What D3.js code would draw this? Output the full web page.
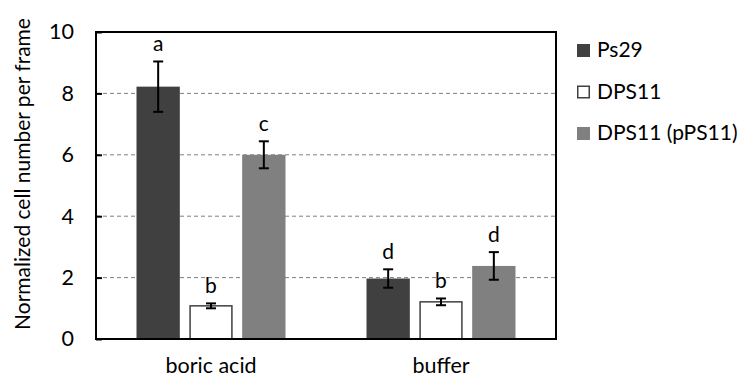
<!DOCTYPE html>
<html>
<head>
<meta charset="utf-8">
<script src="https://cdn.jsdelivr.net/npm/d3@7"></script>
<style>
  html, body { margin: 0; padding: 0; background: #fff; }
  svg { display: block; font-family: Lato, "Open Sans", sans-serif; }
</style>
</head>
<body>
<svg id="chart" width="739" height="380"></svg>
<script>
// Treatments on the x axis
const categories = ["boric acid", "buffer"];
// Strains (legend order)
const seriesNames = ["Ps29", "DPS11", "DPS11 (pPS11)"];
// Mean normalized cell number per frame, per strain, per treatment
const ps29Values  = [8.22, 1.97];
const dps11Values = [1.08, 1.21];
const ppsValues   = [6.00, 2.38];
// Error bar half-lengths
const ps29Err  = [0.82, 0.30];
const dps11Err = [0.08, 0.11];
const ppsErr   = [0.44, 0.45];
// Significance letters
const ps29Letters  = ["a", "d"];
const dps11Letters = ["b", "b"];
const ppsLetters   = ["c", "d"];
// Y axis ticks
const yTicks = [0, 2, 4, 6, 8, 10];

const series = [
  { name: seriesNames[0], values: ps29Values,  errs: ps29Err,  letters: ps29Letters,  fill: "#404040", stroke: "#404040" },
  { name: seriesNames[1], values: dps11Values, errs: dps11Err, letters: dps11Letters, fill: "#ffffff", stroke: "#404040" },
  { name: seriesNames[2], values: ppsValues,   errs: ppsErr,   letters: ppsLetters,   fill: "#808080", stroke: "#808080" }
];

const svg = d3.select("#chart");
const plot = { left: 96, right: 556, top: 32, bottom: 339 };
const labelSize = 21;
const axisSize = 21.5;

const x0 = d3.scaleBand().domain(categories).range([plot.left, plot.right]);
const groupWidth = 149;
const x1 = d3.scaleBand()
  .domain(seriesNames)
  .range([(x0.bandwidth() - groupWidth) / 2, (x0.bandwidth() + groupWidth) / 2])
  .paddingInner(0.18);
const y = d3.scaleLinear().domain([0, 10]).range([plot.bottom, plot.top]);

// Dashed gridlines
svg.append("g")
  .selectAll("line")
  .data(yTicks.filter(t => t > 0 && t < 10))
  .join("line")
  .attr("x1", plot.left).attr("x2", plot.right)
  .attr("y1", d => y(d)).attr("y2", d => y(d))
  .attr("stroke", "#7f7f7f")
  .attr("stroke-width", 1)
  .attr("stroke-dasharray", "4,3");

// Bars
const groups = svg.append("g")
  .selectAll("g")
  .data(categories)
  .join("g")
  .attr("transform", d => `translate(${x0(d)},0)`);

const cells = groups.selectAll("g.cell")
  .data((c, ci) => series.map(s => ({ s, v: s.values[ci], e: s.errs[ci], l: s.letters[ci] })))
  .join("g")
  .attr("class", "cell");

cells.append("rect")
  .attr("x", d => x1(d.s.name) + (d.s.fill === "#ffffff" ? 0.75 : 0))
  .attr("width", d => x1.bandwidth() - (d.s.fill === "#ffffff" ? 1.5 : 0))
  .attr("y", d => y(d.v))
  .attr("height", d => y(0) - y(d.v))
  .attr("fill", d => d.s.fill)
  .attr("stroke", d => d.s.fill === "#ffffff" ? d.s.stroke : "none")
  .attr("stroke-width", 1.5);

// Error bars with significance letters above
const cap = 5;
cells.each(function (d) {
  const g = d3.select(this);
  const cx = x1(d.s.name) + x1.bandwidth() / 2;
  const yt = y(d.v + d.e), yb = y(d.v - d.e);
  g.append("line").attr("x1", cx).attr("x2", cx).attr("y1", yt).attr("y2", yb);
  g.append("line").attr("x1", cx - cap).attr("x2", cx + cap).attr("y1", yt).attr("y2", yt);
  g.append("line").attr("x1", cx - cap).attr("x2", cx + cap).attr("y1", yb).attr("y2", yb);
  g.selectAll("line").attr("stroke", "#000").attr("stroke-width", 2);
  g.append("text")
    .attr("x", cx)
    .attr("y", yt - 10)
    .attr("text-anchor", "middle")
    .attr("font-size", labelSize)
    .attr("fill", "#000")
    .text(d.l);
});

// Plot frame
svg.append("rect")
  .attr("x", plot.left).attr("y", plot.top)
  .attr("width", plot.right - plot.left)
  .attr("height", plot.bottom - plot.top)
  .attr("fill", "none")
  .attr("stroke", "#000")
  .attr("stroke-width", 2);

// Y axis (inside ticks)
const yAxis = d3.axisLeft(y).tickValues(yTicks).tickSize(-6).tickPadding(22).tickFormat(d3.format("d"));
const ya = svg.append("g").attr("transform", `translate(${plot.left},0)`).call(yAxis);
ya.select(".domain").remove();
ya.selectAll(".tick line").attr("stroke", "#000").attr("stroke-width", 2);
ya.selectAll(".tick text").attr("font-size", axisSize).attr("font-family", "Lato, sans-serif").attr("fill", "#000");

// X axis labels
const xAxis = d3.axisBottom(x0).tickSize(0).tickPadding(19);
const xa = svg.append("g").attr("transform", `translate(0,${plot.bottom})`).call(xAxis);
xa.select(".domain").remove();
xa.selectAll(".tick text").attr("font-size", axisSize).attr("font-family", "Lato, sans-serif").attr("fill", "#000");

// Y axis title
svg.append("text")
  .attr("transform", "translate(30,174) rotate(-90)")
  .attr("text-anchor", "middle")
  .attr("font-size", labelSize)
  .attr("fill", "#000")
  .text("Normalized cell number per frame");

// Legend
const legend = svg.append("g")
  .selectAll("g")
  .data(series)
  .join("g")
  .attr("transform", (d, i) => `translate(577,${50 + i * 41.5})`);
legend.append("rect")
  .attr("x", 0.75).attr("y", -5.25)
  .attr("width", 11.5).attr("height", 11.5)
  .attr("fill", d => d.fill)
  .attr("stroke", d => d.stroke)
  .attr("stroke-width", 1.5);
legend.append("text")
  .attr("x", 20)
  .attr("y", 0)
  .attr("dy", "0.35em")
  .attr("font-size", labelSize)
  .attr("fill", "#000")
  .text(d => d.name);
</script>
</body>
</html>
